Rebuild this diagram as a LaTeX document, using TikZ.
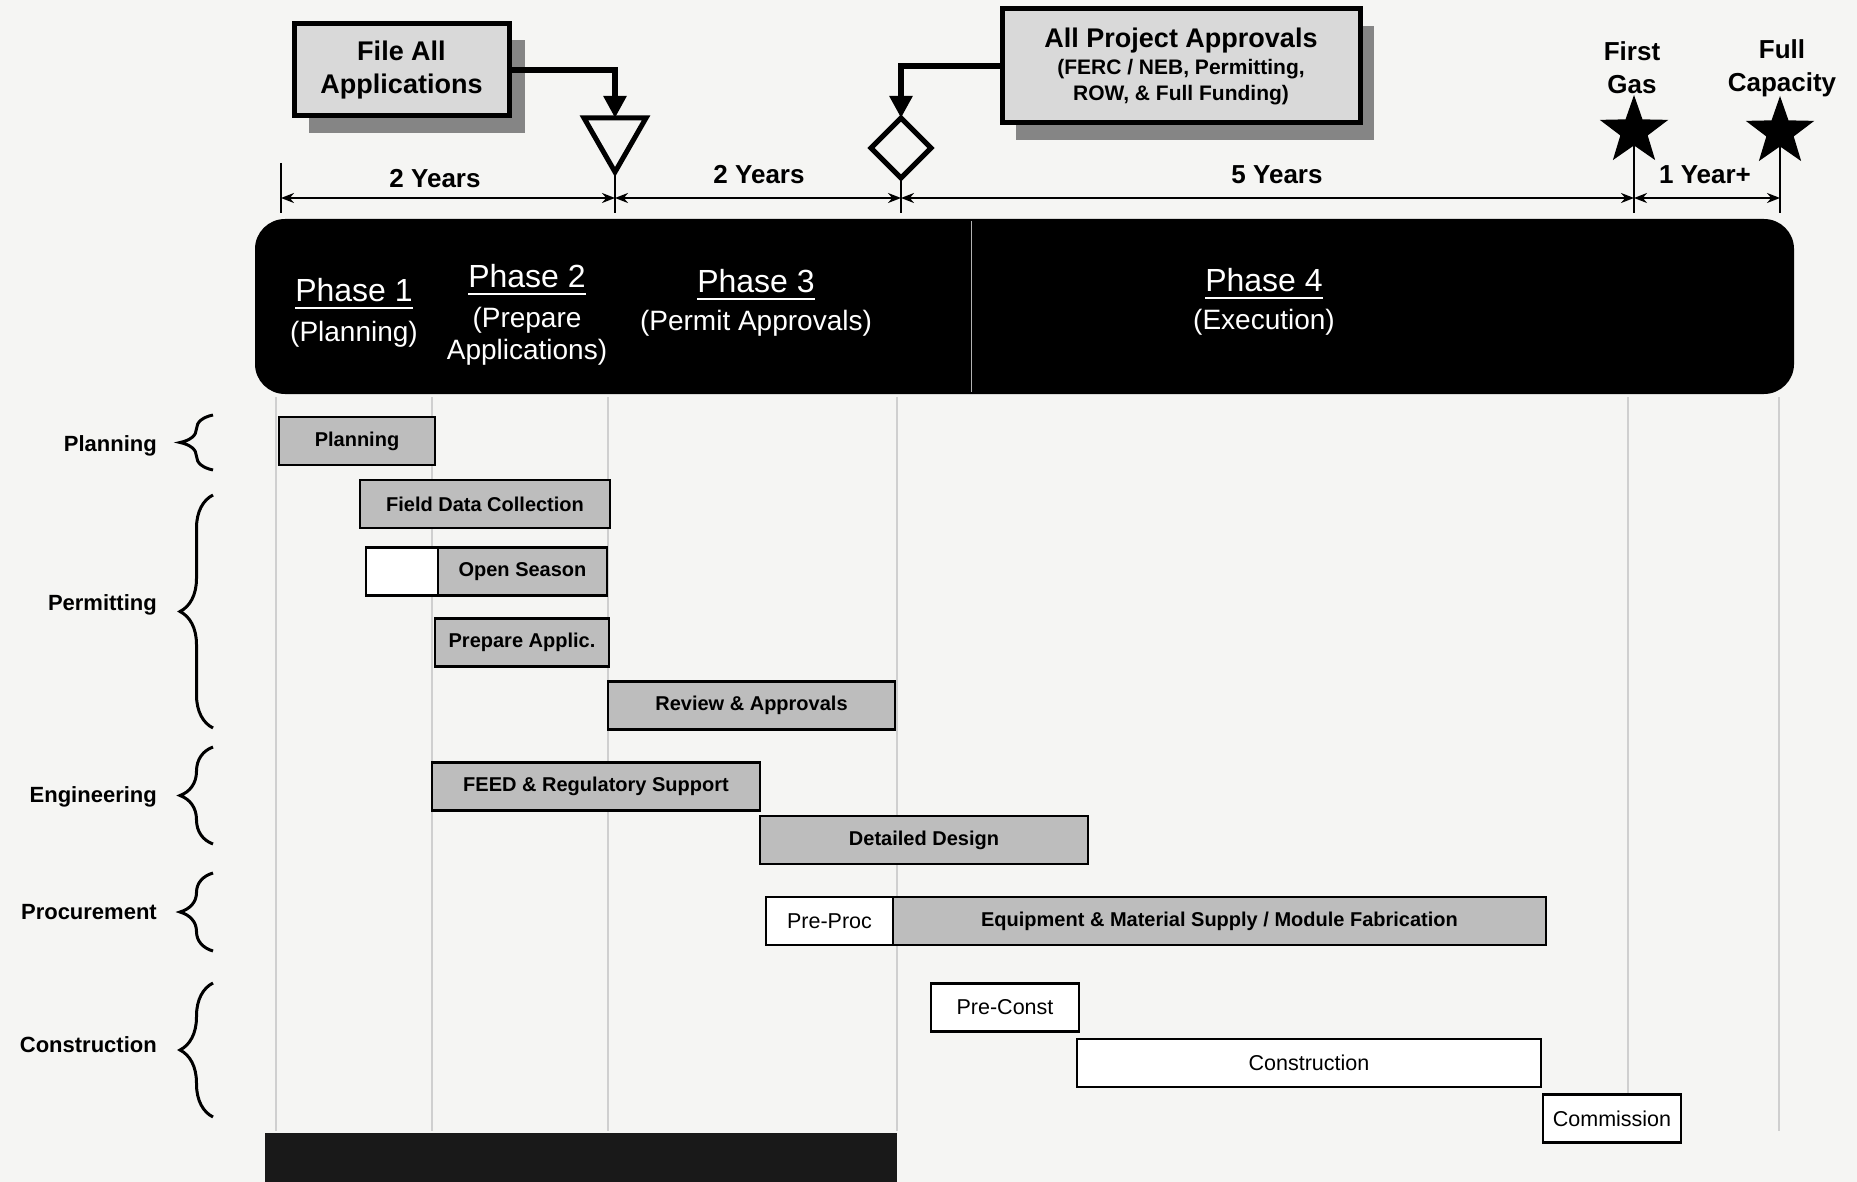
\documentclass[tikz,border=0pt]{standalone}
\usepackage{fontspec}
\setmainfont{Liberation Sans}
\usetikzlibrary{arrows.meta,shapes.geometric,decorations.pathreplacing}
\definecolor{bgc}{HTML}{F5F5F3}
\definecolor{barg}{HTML}{BDBDBD}
\definecolor{boxg}{HTML}{D9D9D9}
\definecolor{shd}{HTML}{858585}
\definecolor{gridc}{HTML}{CFCFCF}
\newcommand{\fs}[2]{\fontsize{#1}{#2}\selectfont}
\begin{document}
\begin{tikzpicture}[x=1pt,y=-1pt,
 bar/.style={draw=black,line width=2.5pt,fill=barg,minimum height=48pt,inner sep=0pt,font=\bfseries\fs{20}{24}},
 wbar/.style={bar,fill=white,font=\fs{21.5}{26}},
 lab/.style={anchor=east,inner sep=0pt,font=\bfseries\fs{22}{26}},
 brc/.style={decorate,decoration={brace,amplitude=33pt},line width=3pt},
 topbox/.style={draw=black,line width=5pt,fill=boxg,align=center,inner sep=0pt},
 conn/.style={line width=6pt,-{Triangle[width=22pt,length=22pt]}},
 dim/.style={line width=2pt,{Stealth[length=13pt,width=10pt]}-{Stealth[length=13pt,width=10pt]}},
 yr/.style={font=\bfseries\fs{26}{30},inner sep=0pt},
 ph/.style={text=white,font=\fs{32}{36},inner sep=0pt},
 phs/.style={text=white,font=\fs{28}{32},align=center,inner sep=0pt},
 ms/.style={font=\bfseries\fs{26}{33},align=center,inner sep=0pt},
 gridl/.style={draw=gridc,line width=1.5pt},
 mstar/.style={star,star points=5,star point ratio=2.5,fill=black,minimum size=72pt,inner sep=0pt}]

\fill[bgc] (0,0) rectangle (1857,1182);
\useasboundingbox (0,0) rectangle (1857,1182);

% ---- top milestone boxes
\fill[shd] (309,40) rectangle (525,133);
\node[topbox,minimum width=215pt,minimum height=92pt,font=\bfseries\fs{27}{33}] (fa) at (401.5,70) {File All\\Applications};
\fill[shd] (1016,26) rectangle (1374,140);
\node[topbox,minimum width=358pt,minimum height=114pt,font=\bfseries\fs{21}{26}] (ap) at (1181,66)
 {{\fs{27}{30}All Project Approvals}\\[1pt](FERC / NEB, Permitting,\\ROW, \& Full Funding)};

% triangle and diamond markers
\coordinate (tritop) at (615,118);
\coordinate (diatop) at (901,118);
\draw[line width=5pt,fill=bgc,line join=miter] (584,118) -- (646,118) -- (615,172) -- cycle;
\draw[line width=5pt,fill=bgc,line join=miter] (901,118) -- (931,148) -- (901,178) -- (871,148) -- cycle;
\draw[conn] (fa.east) -| (tritop);
\draw[conn] (ap.west) -| (diatop);

% stars
\node[mstar] (s1) at (1634,131) {};
\node[mstar] (s2) at (1780,132) {};
\node[ms] (fg) at (1632,68) {First\\Gas};
\node[ms] (fc) at (1782,68) {Full\\Capacity};

% timeline
\coordinate (t0) at (281,198);
\coordinate (t1) at (615,198);
\coordinate (t2) at (901,198);
\coordinate (t3) at (1634,198);
\coordinate (t4) at (1780,198);
\draw[line width=2pt] (281,163) -- (281,213);
\draw[line width=2pt] (615,172) -- (615,213);
\draw[line width=2pt] (901,178) -- (901,213);
\draw[line width=2pt] (s1.center) -- (1634,213);
\draw[line width=2pt] (s2.center) -- (1780,213);
\draw[dim] (t0) -- (t1);
\draw[dim] (t1) -- (t2);
\draw[dim] (t2) -- (t3);
\draw[dim] (t3) -- (t4);
\node[yr] (y1) at (435,179) {2 Years};
\node[yr] (y2) at (759,175) {2 Years};
\node[yr] (y3) at (1277,175) {5 Years};
\node[yr] (y4) at (1705,175) {1 Year+};

% phase band
\fill[black,rounded corners=30pt] (255,219) rectangle (1794,394);
\draw[gray!60,line width=1pt] (971,221) -- (971,392);
\node[ph] (p1) at (354,290) {Phase 1};
\node[phs] (p1s) at (354,334) {(Planning)};
\node[ph] (p2) at (527,276) {Phase 2};
\node[phs] (p2s) at (527,336) {(Prepare\\Applications)};
\node[ph] (p3) at (756,281) {Phase 3};
\node[phs] (p3s) at (756,323) {(Permit Approvals)};
\node[ph] (p4) at (1264,280) {Phase 4};
\node[phs] (p4s) at (1264,322) {(Execution)};
\foreach \p in {p1,p2,p3,p4}
 \draw[white,line width=2pt] ([yshift=-6pt]\p.south west) -- ([yshift=-6pt]\p.south east);

% grid lines
\foreach \gx in {276,432,608,897,1628,1779}
 \draw[gridl] (\gx,397) -- (\gx,1131);

% left labels and braces
\node[lab] (lplan) at (157,446) {Planning};
\draw[brc] (213,470) -- (213,415);
\node[lab] (lperm) at (157,605) {Permitting};
\draw[brc] (213,728) -- (213,495);
\node[lab] (leng) at (157,797) {Engineering};
\draw[brc] (213,844) -- (213,747);
\node[lab] (lproc) at (157,912) {Procurement};
\draw[brc] (213,951) -- (213,873);
\node[lab] (lcons) at (157,1045) {Construction};
\draw[brc] (213,1117) -- (213,983);

% bars
\node[bar,minimum width=156pt] (b1) at (357,441) {Planning};
\node[bar,minimum width=250pt] (b2) at (485,504) {Field Data Collection};
\node[wbar,minimum width=72pt] (b3a) at (402,571.5) {};
\node[bar,minimum width=169pt] (b3) at (522.5,571.5) {Open Season};
\node[bar,minimum width=174pt] (b4) at (522,642.5) {Prepare Applic.};
\node[bar,minimum width=287pt] (b5) at (751.5,705.5) {Review \& Approvals};
\node[bar,minimum width=328pt] (b6) at (596,786.5) {FEED \& Regulatory Support};
\node[bar,minimum width=328pt] (b7) at (924,840) {Detailed Design};
\node[wbar,minimum width=127pt] (b8a) at (829.5,921) {Pre-Proc};
\node[bar,minimum width=653pt] (b8) at (1219.5,921) {Equipment \& Material Supply / Module Fabrication};
\node[wbar,minimum width=148pt] (b9) at (1005,1007.5) {Pre-Const};
\node[wbar,minimum width=464pt] (b10) at (1309,1063) {Construction};
\node[wbar,minimum width=138pt] (b11) at (1612,1118.5) {Commission};

% bottom dark bar
\fill[black!90] (265,1133) rectangle (897,1182);
\end{tikzpicture}
\end{document}
